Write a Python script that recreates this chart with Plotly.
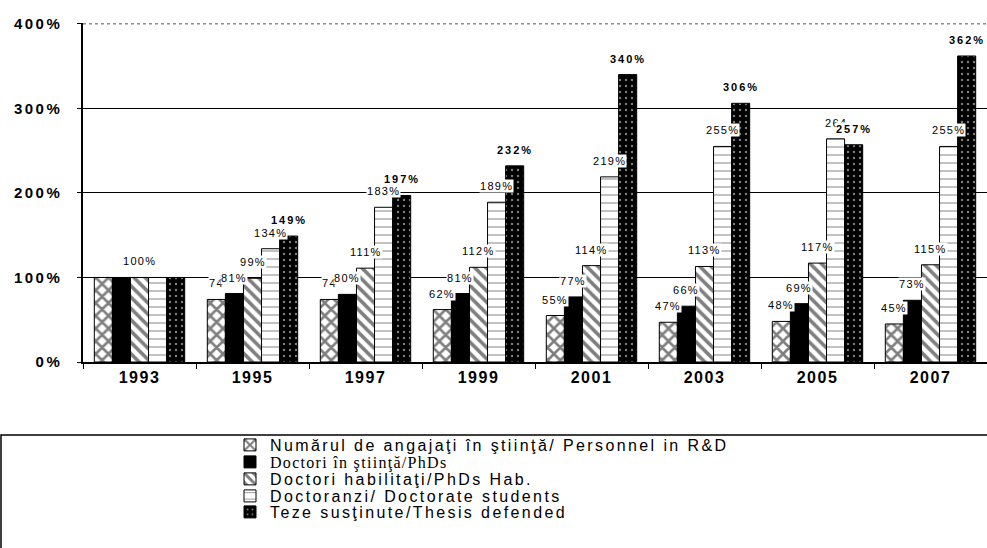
import plotly.graph_objects as go

years = ["1993", "1995", "1997", "1999", "2001", "2003", "2005", "2007"]

personnel = [100, 74, 74, 62, 55, 47, 48, 45]
phds = [100, 81, 80, 81, 77, 66, 69, 73]
phds_hab = [100, 99, 111, 112, 114, 113, 117, 115]
students = [100, 134, 183, 189, 219, 255, 264, 255]
theses = [100, 149, 197, 232, 340, 306, 257, 362]

personnel_labels = ["", "74", "74", "62%", "55%", "47%", "48%", "45%"]
phds_labels = ["", "81%", "80%", "81%", "77%", "66%", "69%", "73%"]
hab_labels = ["100%", "99%", "111%", "112%", "114%", "113%", "117%", "115%"]
students_labels = ["", "134%", "183%", "189%", "219%", "255%", "264", "255%"]
theses_labels = ["", "149%", "197%", "232%", "340%", "306%", "257%", "362%"]

y_tick_values = [0, 100, 200, 300, 400]
y_tick_labels = ["0%", "100%", "200%", "300%", "400%"]

names = [
    "Numărul de angajaţi în ştiinţă/ Personnel in R&amp;D",
    "Doctori în ştiinţă/PhDs",
    "Doctori habilitaţi/PhDs Hab.",
    "Doctoranzi/ Doctorate students",
    "Teze susţinute/Thesis defended",
]
name_fonts = ["sans", "serif", "sans", "sans", "sans"]

series = [personnel, phds, phds_hab, students, theses]
labels = [personnel_labels, phds_labels, hab_labels, students_labels, theses_labels]

patterns = [
    dict(shape="x", fgcolor="black", bgcolor="white", size=9, solidity=0.5),
    dict(shape="", fgcolor="black", bgcolor="black"),
    dict(shape="\\", fgcolor="black", bgcolor="white", size=8, solidity=0.45),
    dict(shape="-", fgcolor="black", bgcolor="white", size=8, solidity=0.12),
    dict(shape=".", fgcolor="white", bgcolor="black", size=6, solidity=0.12),
]
colors = ["white", "black", "white", "white", "black"]

FONT = "Arial, 'Liberation Sans', Helvetica, sans-serif"
SERIF = "'Liberation Serif', 'Times New Roman', 'DejaVu Serif', serif"


def spaced(text, ls, family=None):
    st = "letter-spacing:%spx" % ls
    if family:
        st += ";font-family:%s" % family
    return '<span style="%s">%s</span>' % (st, text)


W, H = 987, 548
ML, MR, MT, MB = 83, 0, 23, 186
BARGAP = 0.2
NS = len(series)
plot_w = W - ML - MR
plot_h = H - MT - MB
slot = plot_w / len(years)
barw = slot * (1 - BARGAP) / NS

fig = go.Figure()
for i in range(NS):
    nm = spaced(names[i], 1.3 if name_fonts[i] == "serif" else 2.4,
                SERIF if name_fonts[i] == "serif" else None)
    fig.add_trace(go.Bar(
        x=years, y=series[i], name=nm,
        marker=dict(color=colors[i], pattern=patterns[i],
                    line=dict(color="black", width=1)),
        legend="legend" if i == 0 else "legend%d" % (i + 1),
    ))

annotations = []
for i in range(NS):
    for j in range(len(years)):
        t = labels[i][j]
        if not t:
            continue
        bold = (i == NS - 1)
        txt = spaced(("<b>%s</b>" % t) if bold else t, 2 if bold else 1.3)
        annotations.append(dict(
            x=j, y=series[i][j], xref="x", yref="y",
            text=txt,
            showarrow=False, xanchor="center", yanchor="bottom",
            xshift=(i - (NS - 1) / 2) * barw if j > 0 else 0,
            yshift=9,
            font=dict(family=FONT, size=11, color="black"),
            bgcolor="white", borderpad=0,
        ))

legend_centers = [445, 462, 479, 496, 512]
legends = {}
for i, yc in enumerate(legend_centers):
    key = "legend" if i == 0 else "legend%d" % (i + 1)
    legends[key] = dict(
        x=(230 - ML) / plot_w, xanchor="left",
        y=-(yc - (H - MB)) / plot_h, yanchor="middle",
        font=dict(family=FONT, size=16, color="black"),
        bgcolor="rgba(0,0,0,0)", borderwidth=0,
        itemwidth=30, tracegroupgap=0,
    )

fig.update_layout(
    width=W, height=H,
    margin=dict(l=ML, r=MR, t=MT, b=MB, autoexpand=False),
    paper_bgcolor="white", plot_bgcolor="white",
    barmode="group", bargap=BARGAP, bargroupgap=0,
    font=dict(family=FONT, color="black"),
    annotations=annotations,
    showlegend=True,
    shapes=[
        dict(
            type="rect", xref="paper", yref="paper",
            x0=-(ML - 1) / plot_w, x1=1.02,
            y0=-(H + 20 - (H - MB)) / plot_h, y1=-(435 - (H - MB)) / plot_h,
            line=dict(color="black", width=1.5), fillcolor="rgba(0,0,0,0)",
        ),
        dict(
            type="line", xref="paper", yref="y", x0=0, x1=1,
            y0=y_tick_values[-1], y1=y_tick_values[-1],
            line=dict(color="#555", width=1, dash="dot"), layer="below",
        ),
    ],
    **legends,
)
fig.update_xaxes(
    type="category", range=[-0.5, len(years) - 0.5], automargin=False,
    tickvals=years, ticktext=[spaced(y, 1.5) for y in years],
    showline=True, linecolor="black", linewidth=1.5,
    ticks="outside", tickson="boundaries", ticklen=5, tickcolor="black",
    tickfont=dict(family=FONT, size=16, color="black", weight="bold"),
    showgrid=False,
)
fig.update_yaxes(
    range=[0, 401], tickvals=y_tick_values, automargin=False,
    ticktext=[spaced(t, 2.5) for t in y_tick_labels],
    showline=True, linecolor="black", linewidth=1.5,
    ticks="outside", ticklen=4, tickcolor="black", ticklabelstandoff=12,
    tickfont=dict(family=FONT, size=15, color="black", weight="bold"),
    showgrid=True, gridcolor="black", gridwidth=1,
    zeroline=False,
)

fig.write_html(
    "out.html",
    config={"displayModeBar": False},
    post_script="document.body.style.margin='0';document.body.style.overflow='hidden';",
)
